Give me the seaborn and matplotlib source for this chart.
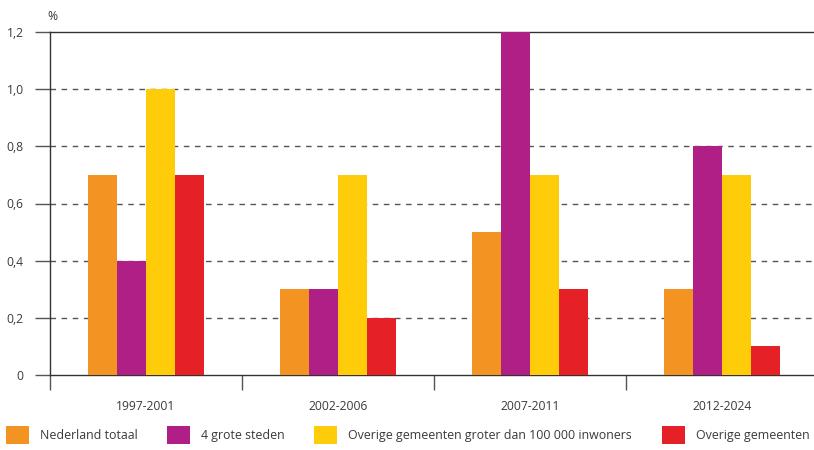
import pandas as pd
import numpy as np
import matplotlib.pyplot as plt
import seaborn as sns
from matplotlib.ticker import FixedLocator, FuncFormatter

periods = ['1997-2001', '2002-2006', '2007-2011', '2012-2024']
groups = ['Nederland totaal', '4 grote steden',
          'Overige gemeenten groter dan 100 000 inwoners', 'Overige gemeenten']
nederland = [0.7, 0.3, 0.5, 0.3]
grote_steden = [0.4, 0.3, 1.2, 0.8]
groot = [1.0, 0.7, 0.7, 0.7]
overig = [0.7, 0.2, 0.3, 0.1]
colors = ['#F39322', '#B01F85', '#FECC08', '#E52026']

df = pd.DataFrame({'periode': periods * 4,
                   'groep': np.repeat(groups, 4),
                   'waarde': nederland + grote_steden + groot + overig})

sns.set_style('white')
plt.rcParams['font.family'] = ['Open Sans', 'DejaVu Sans']
txt = '#3a3a3a'

fig = plt.figure(figsize=(8.14, 4.5), dpi=100)
ax = fig.add_axes([50 / 814, 1 - 375 / 450, 1 - 50 / 814, (375 - 32) / 450])

sns.barplot(data=df, x='periode', y='waarde', hue='groep', hue_order=groups,
            palette=colors, width=0.6, saturation=1, linewidth=0, ax=ax, zorder=3)

ax.set_xlim(-0.5, 3.5 - 4 / 192)
ax.set_ylim(0, 1.2)
ax.set_yticks(np.arange(0, 1.21, 0.2))
ax.yaxis.set_major_formatter(FuncFormatter(lambda v, p: f'{v:.1f}'.replace('.', ',') if v > 0.01 else '0'))
for y in [0.2, 0.4, 0.6, 0.8, 1.0]:
    ax.axhline(y, color='#555555', lw=1, ls=(0, (4, 4)), zorder=1)
ax.set_xlabel('')
ax.set_ylabel('')

ax.xaxis.set_minor_locator(FixedLocator([-0.5, 0.5, 1.5, 2.5, 3.5]))
ax.tick_params(axis='x', which='major', length=0, pad=18, labelsize=8.7, colors=txt)
ax.tick_params(axis='x', which='minor', length=11, width=1, color='#555555', bottom=True)
ax.tick_params(axis='y', length=11, width=1, color='#555555', pad=8, labelsize=8.7, labelcolor=txt, left=True)

for s in ['left', 'bottom', 'top']:
    ax.spines[s].set_visible(True)
    ax.spines[s].set_color('#333333')
    ax.spines[s].set_linewidth(1)
ax.spines['right'].set_visible(False)

fig.text(52 / 814, 1 - 17 / 450, '%', ha='center', va='center', fontsize=8.7, color=txt)

sns.move_legend(ax, loc='lower left', bbox_to_anchor=(0.0, 0.0),
                bbox_transform=fig.transFigure, ncol=4, frameon=False, title=None,
                fontsize=8.9, handlelength=1.87, handleheight=1.87,
                handletextpad=0.9, columnspacing=2.38, borderaxespad=0.2,
                borderpad=0.25, labelcolor=txt)

fig.savefig('out.png', dpi=100)
